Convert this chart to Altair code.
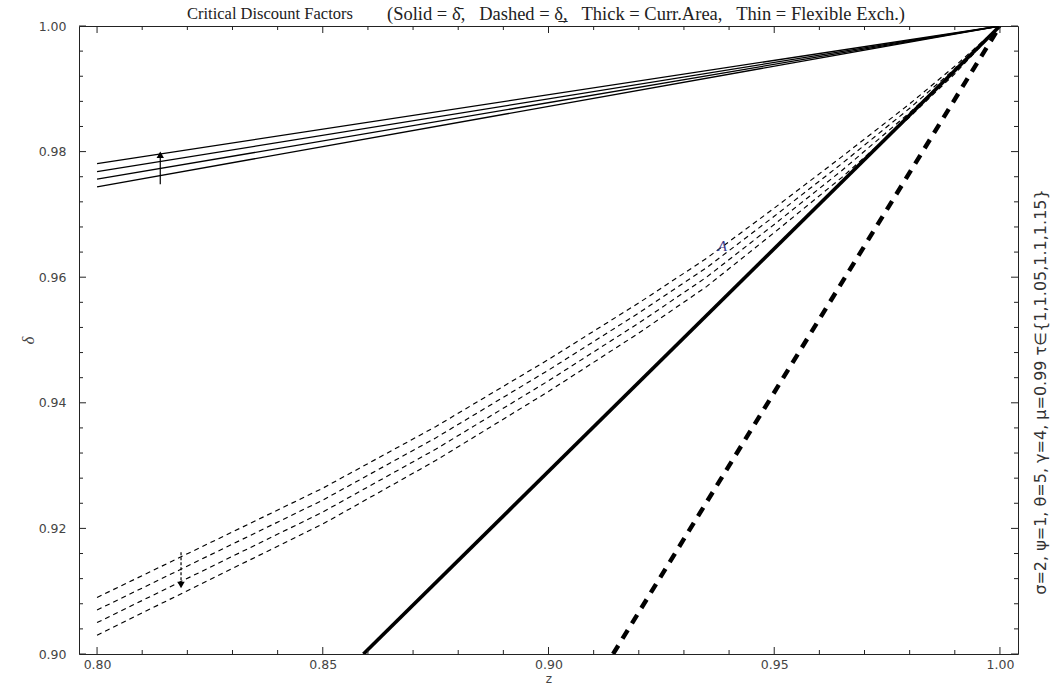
import altair as alt
import pandas as pd

# ---------------- data ----------------
# thin solid lines (upper bound, flexible exchange), tau = 1 ... 1.15
solid_z = [0.80, 1.00]
solid_1 = [0.9744, 1.0]
solid_2 = [0.9756, 1.0]
solid_3 = [0.9768, 1.0]
solid_4 = [0.9781, 1.0]

# thin dashed lines (lower bound, flexible exchange)
dash_z = [0.80, 0.85, 0.875, 0.90, 0.92, 0.935, 0.95, 0.965, 0.98, 0.99, 1.00]
dash_1 = [0.9090, 0.9264, 0.9362, 0.9469, 0.9559, 0.9630, 0.9710, 0.9792, 0.9876, 0.9936, 1.0]
dash_2 = [0.9070, 0.9245, 0.9344, 0.9452, 0.9543, 0.9615, 0.9697, 0.9781, 0.9869, 0.9932, 1.0]
dash_3 = [0.9050, 0.9226, 0.9326, 0.9435, 0.9527, 0.9600, 0.9684, 0.9770, 0.9862, 0.9928, 1.0]
dash_4 = [0.9030, 0.9207, 0.9308, 0.9418, 0.9511, 0.9585, 0.9671, 0.9759, 0.9855, 0.9924, 1.0]

# thick lines (currency area)
thick_solid_z = [0.859, 1.00]
thick_solid_d = [0.900, 1.00]
thick_dash_z = [0.9143, 1.00]
thick_dash_d = [0.900, 1.00]

# arrows: (z, from, to)
up_arrow = [0.814, 0.9748, 0.9795]
down_arrow = [0.8186, 0.9162, 0.9110]

# label A
label_a = [0.9385, 0.9650, "A"]

# ticks
x_major = [0.80, 0.85, 0.90, 0.95, 1.00]
x_minor = [0.81, 0.82, 0.83, 0.84, 0.86, 0.87, 0.88, 0.89, 0.91, 0.92, 0.93, 0.94,
           0.96, 0.97, 0.98, 0.99]
y_major = [0.90, 0.92, 0.94, 0.96, 0.98, 1.00]
y_minor = [0.904, 0.908, 0.912, 0.916, 0.924, 0.928, 0.932, 0.936, 0.944, 0.948, 0.952,
           0.956, 0.964, 0.968, 0.972, 0.976, 0.984, 0.988, 0.992, 0.996]

NB = "\u00a0"
title_part1 = "Critical Discount Factors"
title_part2 = ("(Solid = \u03b4\u0304," + NB * 3 + "Dashed = \u03b4\u0332," + NB * 3
               + "Thick = Curr.Area," + NB * 3 + "Thin = Flexible Exch.)")
side_text = "\u03c3=2, \u03c8=1, \u03b8=5, \u03b3=4, \u03bc=0.99 \u03c4\u2208{1,1.05,1.1,1.15}"

W, H = 939, 628

# ---------------- tables ----------------
rows = []
for name, ys in [("s1", solid_1), ("s2", solid_2), ("s3", solid_3), ("s4", solid_4)]:
    for z, d in zip(solid_z, ys):
        rows.append({"z": z, "d": d, "s": name})
solid_df = pd.DataFrame(rows)

rows = []
for name, ys in [("d1", dash_1), ("d2", dash_2), ("d3", dash_3), ("d4", dash_4)]:
    for z, d in zip(dash_z, ys):
        rows.append({"z": z, "d": d, "s": name})
dash_df = pd.DataFrame(rows)

thick_s_df = pd.DataFrame({"z": thick_solid_z, "d": thick_solid_d})
thick_d_df = pd.DataFrame({"z": thick_dash_z, "d": thick_dash_d})

xs = alt.Scale(domain=[0.796, 1.004], nice=False, zero=False)
ys_ = alt.Scale(domain=[0.90, 1.00], nice=False, zero=False)


def X(f="z"):
    return alt.X(f"{f}:Q", scale=xs)


def Y(f="d"):
    return alt.Y(f"{f}:Q", scale=ys_)


lab_font = "DejaVu Sans"

base_axes = alt.Chart(solid_df).mark_line(color="black", strokeWidth=1.3, clip=True).encode(
    x=alt.X("z:Q", scale=xs,
            axis=alt.Axis(values=x_major, format=".2f", ticks=False, domain=False, grid=False,
                          labelFont=lab_font, labelFontSize=12.5, labelColor="#444",
                          labelPadding=4, title="z", titleFont=lab_font, titleFontSize=12,
                          titleFontWeight="normal", titleColor="#444",
                          titleY=28, titleBaseline="alphabetic")),
    y=alt.Y("d:Q", scale=ys_,
            axis=alt.Axis(values=y_major, format=".2f", ticks=False, domain=False, grid=False,
                          labelFont=lab_font, labelFontSize=12.5, labelColor="#444",
                          labelPadding=13, title="\u03b4", titleFont="Liberation Serif",
                          titleFontSize=17, titleFontStyle="italic", titleFontWeight="normal",
                          titleColor="#444", titlePadding=1)),
    detail="s:N",
)

dashed = alt.Chart(dash_df).mark_line(color="black", strokeWidth=1.15, strokeDash=[5, 4], clip=True).encode(
    x=X(), y=Y(), detail="s:N")
thick_s = alt.Chart(thick_s_df).mark_line(color="black", strokeWidth=3.6, clip=True).encode(x=X(), y=Y())
thick_d = alt.Chart(thick_d_df).mark_line(color="black", strokeWidth=4.4, strokeDash=[10, 8], clip=True).encode(x=X(), y=Y())

up_df = pd.DataFrame({"z": [up_arrow[0]], "a": [up_arrow[1]], "b": [up_arrow[2]]})
dn_df = pd.DataFrame({"z": [down_arrow[0]], "a": [down_arrow[1]], "b": [down_arrow[2]]})
up_shaft = alt.Chart(up_df).mark_rule(color="black", strokeWidth=1.2).encode(
    x=X(), y=Y("a"), y2="b:Q")
up_head = alt.Chart(up_df).mark_point(shape="triangle-up", filled=True, color="black", size=55, opacity=1).encode(
    x=X(), y=Y("b"))
dn_shaft = alt.Chart(dn_df).mark_rule(color="black", strokeWidth=1.2, strokeDash=[3, 2]).encode(
    x=X(), y=Y("a"), y2="b:Q")
dn_head = alt.Chart(dn_df).mark_point(shape="triangle-down", filled=True, color="black", size=55, opacity=1).encode(
    x=X(), y=Y("b"))

a_df = pd.DataFrame({"z": [label_a[0]], "d": [label_a[1]], "t": [label_a[2]]})
a_text = alt.Chart(a_df).mark_text(font="Liberation Serif", fontSize=15, fontStyle="italic",
                                   color="#3a3a8c").encode(x=X(), y=Y(), text="t:N")

# inward frame ticks
xmaj = pd.DataFrame({"v": x_major})
xmin = pd.DataFrame({"v": x_minor})
ymaj = pd.DataFrame({"v": y_major})
ymin = pd.DataFrame({"v": y_minor})
tick_layers = []
for df, ln in [(xmaj, 7), (xmin, 4)]:
    tick_layers.append(alt.Chart(df).mark_rule(color="#222", strokeWidth=1).encode(
        x=X("v"), y=alt.value(H), y2=alt.value(H - ln)))
    tick_layers.append(alt.Chart(df).mark_rule(color="#222", strokeWidth=1).encode(
        x=X("v"), y=alt.value(0), y2=alt.value(ln)))
for df, ln in [(ymaj, 7), (ymin, 4)]:
    tick_layers.append(alt.Chart(df).mark_rule(color="#222", strokeWidth=1).encode(
        y=Y("v"), x=alt.value(0), x2=alt.value(ln)))
    tick_layers.append(alt.Chart(df).mark_rule(color="#222", strokeWidth=1).encode(
        y=Y("v"), x=alt.value(W), x2=alt.value(W - ln)))

t1_df = pd.DataFrame({"t": [title_part1]})
title1 = alt.Chart(t1_df).mark_text(font="Liberation Serif", fontSize=16.5, color="#222",
                                    align="left", baseline="middle").encode(
    x=alt.value(108), y=alt.value(-12), text="t:N")
t2_df = pd.DataFrame({"t": [title_part2]})
title2 = alt.Chart(t2_df).mark_text(font="Liberation Serif", fontSize=18.5, color="#222",
                                    align="left", baseline="middle").encode(
    x=alt.value(308), y=alt.value(-12), text="t:N")

side_df = pd.DataFrame({"t": [side_text]})
side = alt.Chart(side_df).mark_text(font="DejaVu Sans", fontSize=16, color="#333",
                                    angle=270, align="center", baseline="middle").encode(
    x=alt.value(962), y=alt.value(366), text="t:N")

chart = alt.layer(base_axes, dashed, thick_s, thick_d, up_shaft, up_head, dn_shaft, dn_head,
                  a_text, *tick_layers, title1, title2, side).properties(
    width=W, height=H,
    autosize=alt.AutoSizeParams(type="none"),
    padding={"left": 79, "top": 26, "right": 34, "bottom": 32},
    background="white",
).configure_view(stroke="#222", strokeWidth=1)

chart.save("out.html", embed_options={"renderer": "svg", "actions": False})
